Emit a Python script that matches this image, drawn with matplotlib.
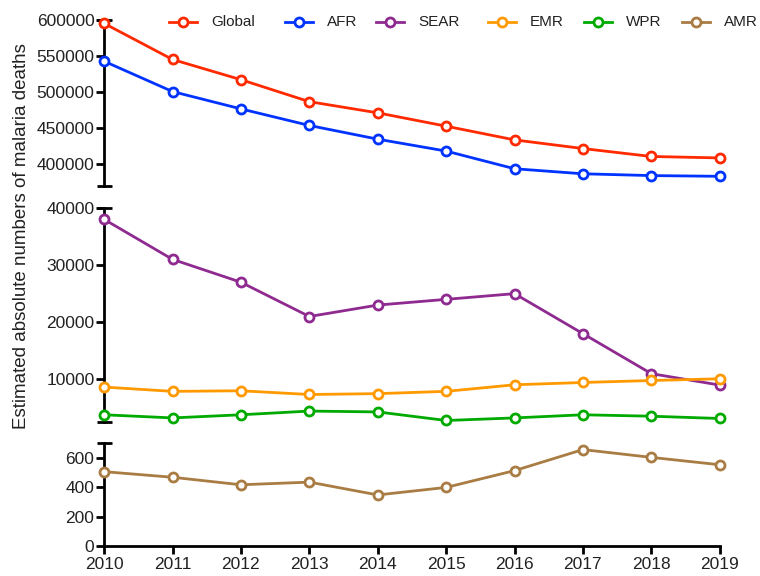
import matplotlib
matplotlib.use("Agg")
import matplotlib.pyplot as plt
from matplotlib.lines import Line2D

years = [2010, 2011, 2012, 2013, 2014, 2015, 2016, 2017, 2018, 2019]

global_deaths = [595500, 545500, 517500, 487000, 471500, 453000, 434000, 422000, 411000, 409000]
afr_deaths    = [543000, 501000, 477000, 454000, 435000, 418500, 394000, 387000, 384500, 383500]
sear_deaths   = [38000, 31000, 27000, 21000, 23000, 24000, 25000, 18000, 11000, 9000]
emr_deaths    = [8650, 7900, 8000, 7350, 7500, 7900, 9050, 9450, 9800, 10100]
wpr_deaths    = [3800, 3250, 3800, 4450, 4300, 2800, 3250, 3800, 3550, 3150]
amr_deaths    = [505, 467, 416, 434, 347, 398, 512, 655, 602, 552]

top_ticks = [400000, 450000, 500000, 550000, 600000]
mid_ticks = [10000, 20000, 30000, 40000]
low_ticks = [0, 200, 400, 600]

plt.rcParams["font.family"] = ["Liberation Sans", "DejaVu Sans"]
plt.rcParams["font.size"] = 12.5
plt.rcParams["text.color"] = "#222222"

W_PX, H_PX = 760, 576
fig = plt.figure(figsize=(7.6, 5.76), dpi=100)
L, W = 0.137, 0.810
ax_top = fig.add_axes([L, 0.677, W, 0.288])
ax_mid = fig.add_axes([L, 0.267, W, 0.372])
ax_low = fig.add_axes([L, 0.052, W, 0.179])

series = [
    ("Global", global_deaths, "#ff2a00", ax_top),
    ("AFR", afr_deaths, "#0033ff", ax_top),
    ("SEAR", sear_deaths, "#8e2a90", ax_mid),
    ("EMR", emr_deaths, "#ff9900", ax_mid),
    ("WPR", wpr_deaths, "#00aa00", ax_mid),
    ("AMR", amr_deaths, "#a97c43", ax_low),
]

for name, vals, col, ax in series:
    ax.plot(years, vals, color=col, lw=2, marker="o", ms=6.5,
            mfc="white", mec=col, mew=2, label=name, clip_on=False, zorder=3)

limits = [(ax_top, 370000, 600000, top_ticks),
          (ax_mid, 2500, 40000, mid_ticks),
          (ax_low, 0, 700, low_ticks)]
for ax, lo, hi, ticks in limits:
    ax.set_xlim(2010, 2019)
    ax.set_ylim(lo, hi)
    ax.set_yticks(ticks)
    for s in ["top", "right", "bottom"]:
        ax.spines[s].set_visible(False)
    ax.spines["left"].set_linewidth(2)
    ax.tick_params(axis="y", direction="out", length=6, width=2, labelsize=12.5,
                   pad=1, labelcolor="#222222")
    ax.tick_params(axis="x", bottom=False, labelbottom=False)

# end caps on the broken axis
for ax, ys in [(ax_top, [370000, 600000]), (ax_mid, [2500, 40000]), (ax_low, [700])]:
    for y in ys:
        ax.plot([-0.012, 0.012], [y, y], color="black", lw=2,
                transform=ax.get_yaxis_transform(), clip_on=False,
                solid_capstyle="butt")

ax_low.spines["bottom"].set_visible(True)
ax_low.spines["bottom"].set_linewidth(2)
ax_low.set_xticks(years)
ax_low.tick_params(axis="x", bottom=True, labelbottom=True, direction="out",
                   length=6, width=2, labelsize=12.5, pad=2, labelcolor="#222222")

fig.text(22 / W_PX, 1 - 236 / H_PX, "Estimated absolute numbers of malaria deaths",
         rotation=90, va="center", ha="center", fontsize=13.5)

# legend drawn by hand, one row along the top
leg_x = [169, 285, 376, 488, 584, 682]
leg_y = 1 - 22 / H_PX
for (name, _, col, _), x0 in zip(series, leg_x):
    x1 = x0 + 28
    fig.add_artist(Line2D([x0 / W_PX, x1 / W_PX], [leg_y, leg_y], color=col, lw=2,
                          transform=fig.transFigure))
    fig.add_artist(Line2D([(x0 + 14) / W_PX], [leg_y], color=col, marker="o", ms=6.5,
                          mfc="white", mec=col, mew=2, transform=fig.transFigure))
    fig.text((x1 + 14) / W_PX, leg_y, name, va="center", ha="left", fontsize=11)

fig.savefig("out.png", dpi=100)
